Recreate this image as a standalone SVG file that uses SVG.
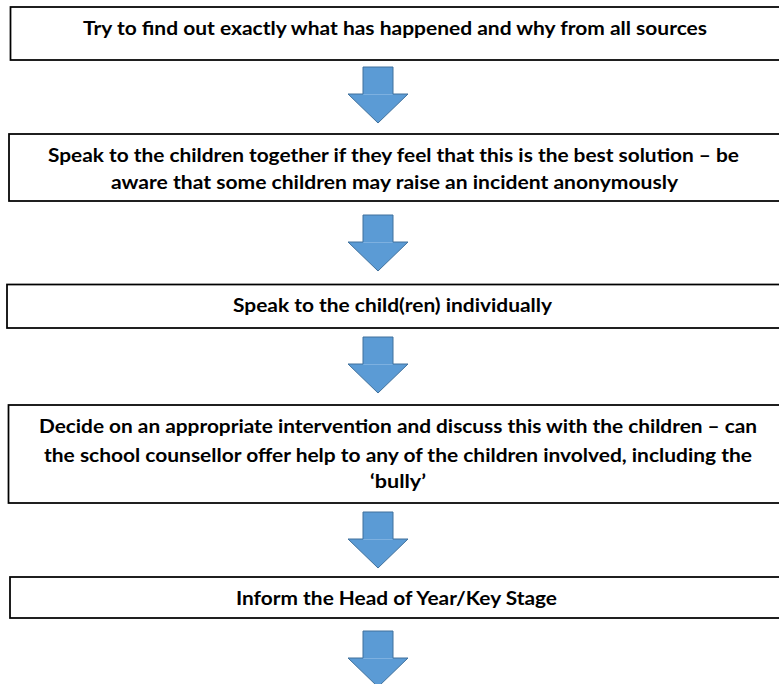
<svg xmlns="http://www.w3.org/2000/svg" width="779" height="684" viewBox="0 0 779 684">
  <defs>
    <style>
      .box { fill: #ffffff; stroke: #000000; stroke-width: 1.75; }
      .lbl { font-family: Lato, "Open Sans", "Liberation Sans", sans-serif; font-weight: bold; font-size: 19px; fill: #000000; text-anchor: middle; }
      .arr { fill: #5B9BD5; stroke: #41719C; stroke-width: 1; stroke-linejoin: miter; }
      .seam { stroke: #7DB0E0; stroke-width: 1; }
    </style>
    <g id="downArrow">
      <polygon class="arr" points="363,0 393,0 393,27 408,27 378,56 348,27 363,27"/>
      <line class="seam" x1="363.5" y1="27.5" x2="392.5" y2="27.5"/>
    </g>
  </defs>
  <rect width="779" height="684" fill="#ffffff"/>

  <g id="connectors">
    <use href="#downArrow" y="67"/>
    <use href="#downArrow" y="215"/>
    <use href="#downArrow" y="337"/>
    <use href="#downArrow" y="512"/>
    <use href="#downArrow" y="631"/>
  </g>

  <g id="node1">
    <rect class="box" x="10.5" y="7" width="790" height="53"/>
    <text class="lbl" x="395" y="35" textLength="624" lengthAdjust="spacingAndGlyphs">Try to find out exactly what has happened and why from all sources</text>
  </g>

  <g id="node2">
    <rect class="box" x="9" y="134" width="790" height="67"/>
    <text class="lbl" x="393.5" y="162" textLength="691" lengthAdjust="spacingAndGlyphs">Speak to the children together if they feel that this is the best solution – be</text>
    <text class="lbl" x="394.5" y="189" textLength="567" lengthAdjust="spacingAndGlyphs">aware that some children may raise an incident anonymously</text>
  </g>

  <g id="node3">
    <rect class="box" x="7" y="284.5" width="790" height="43.5"/>
    <text class="lbl" x="392.5" y="312" textLength="319" lengthAdjust="spacingAndGlyphs">Speak to the child(ren) individually</text>
  </g>

  <g id="node4">
    <rect class="box" x="8.5" y="405" width="790" height="98"/>
    <text class="lbl" x="398" y="433" textLength="718" lengthAdjust="spacingAndGlyphs">Decide on an appropriate intervention and discuss this with the children – can</text>
    <text class="lbl" x="398" y="462" textLength="708" lengthAdjust="spacingAndGlyphs">the school counsellor offer help to any of the children involved, including the</text>
    <text class="lbl" x="398" y="488" textLength="56" lengthAdjust="spacingAndGlyphs">‘bully’</text>
  </g>

  <g id="node5">
    <rect class="box" x="10" y="577" width="790" height="41"/>
    <text class="lbl" x="396.5" y="605" textLength="321" lengthAdjust="spacingAndGlyphs">Inform the Head of Year/Key Stage</text>
  </g>
</svg>
